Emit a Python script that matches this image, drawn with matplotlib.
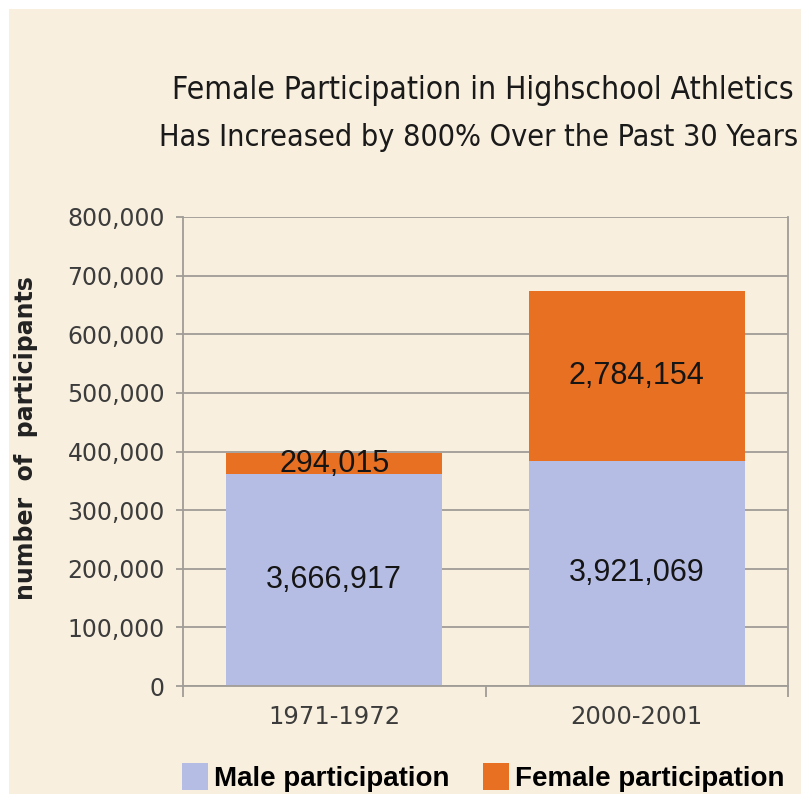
import matplotlib
matplotlib.use('Agg')
import matplotlib.pyplot as plt
from matplotlib.patches import Rectangle, Patch
from matplotlib.ticker import FuncFormatter, FixedLocator

# values (bar heights on the drawn axis)
periods = ['1971-1972', '2000-2001']
male_height = [361000, 384000]
female_height = [37000, 290000]
male_labels = ['3,666,917', '3,921,069']
female_labels = ['294,015', '2,784,154']

BG = '#F8EFDE'
MALE = '#B5BDE4'
FEMALE = '#E87022'
GRID = '#A09C96'

fig = plt.figure(figsize=(8.01, 7.94), dpi=100, facecolor='white')
fig.patches.append(Rectangle((9 / 801, 0), 1, 1 - 9 / 794, transform=fig.transFigure,
                             facecolor=BG, edgecolor='none', zorder=-5))

ax = fig.add_axes([183 / 801, 108 / 794, 605 / 801, 469 / 794])
ax.set_facecolor(BG)

x = list(range(len(periods)))
ax.bar(x, male_height, width=0.715, color=MALE, zorder=2, label='Male participation')
ax.bar(x, female_height, width=0.715, bottom=male_height, color=FEMALE, zorder=2,
       label='Female participation')

for i in x:
    ax.text(i, male_height[i] / 2, male_labels[i], ha='center', va='center',
            fontsize=22, family='Liberation Sans', color='#151515', zorder=3)
    ax.text(i, male_height[i] + female_height[i] / 2, female_labels[i], ha='center',
            va='center', fontsize=22, family='Liberation Sans', color='#151515', zorder=3)

ax.set_xlim(-0.5, 1.5)
ax.set_ylim(0, 800000)
ax.set_yticks(range(0, 800001, 100000))
ax.yaxis.set_major_formatter(FuncFormatter(lambda v, p: '{:,.0f}'.format(v)))
ax.yaxis.grid(True, color=GRID, linewidth=1.3, zorder=1)
ax.set_axisbelow(True)

ax.set_xticks(x)
ax.set_xticklabels(periods)
ax.xaxis.set_minor_locator(FixedLocator([-0.5, 0.5, 1.5]))
ax.tick_params(axis='x', which='major', length=0, pad=14, labelsize=17.5, labelcolor='#3c3c3c')
ax.tick_params(axis='x', which='minor', length=8, width=1.3, color=GRID, direction='out')
ax.tick_params(axis='y', length=5, width=1.3, color=GRID, pad=8, labelsize=17,
               labelcolor='#3c3c3c')

for side in ['left', 'right', 'bottom', 'top']:
    ax.spines[side].set_color(GRID)
    ax.spines[side].set_linewidth(1.3)
ax.spines['top'].set_visible(False)

fig.text(26 / 801, 1 - 438 / 794, 'number  of  participants', rotation=90, ha='center',
         va='center', fontsize=17, fontweight='bold', color='#222222')

fig.text(483 / 801, 1 - 90 / 794, 'Female Participation in Highschool Athletics',
         ha='center', va='center', fontsize=22.8, fontstretch='condensed', color='#1a1a1a')
fig.text(479 / 801, 1 - 137 / 794, 'Has Increased by 800% Over the Past 30 Years',
         ha='center', va='center', fontsize=21.9, fontstretch='condensed', color='#1a1a1a')

handles = [Patch(facecolor=MALE, edgecolor='none'), Patch(facecolor=FEMALE, edgecolor='none')]
fig.legend(handles, ['Male participation', 'Female participation'], ncol=2,
           loc='lower left', bbox_to_anchor=(157 / 801, -23 / 794), frameon=False,
           prop={'family': 'Liberation Sans', 'weight': 'bold', 'size': 20},
           handlelength=0.95, handleheight=1.1, handletextpad=0.2, columnspacing=1.2)

fig.savefig('out.png', dpi=100, facecolor='white')
